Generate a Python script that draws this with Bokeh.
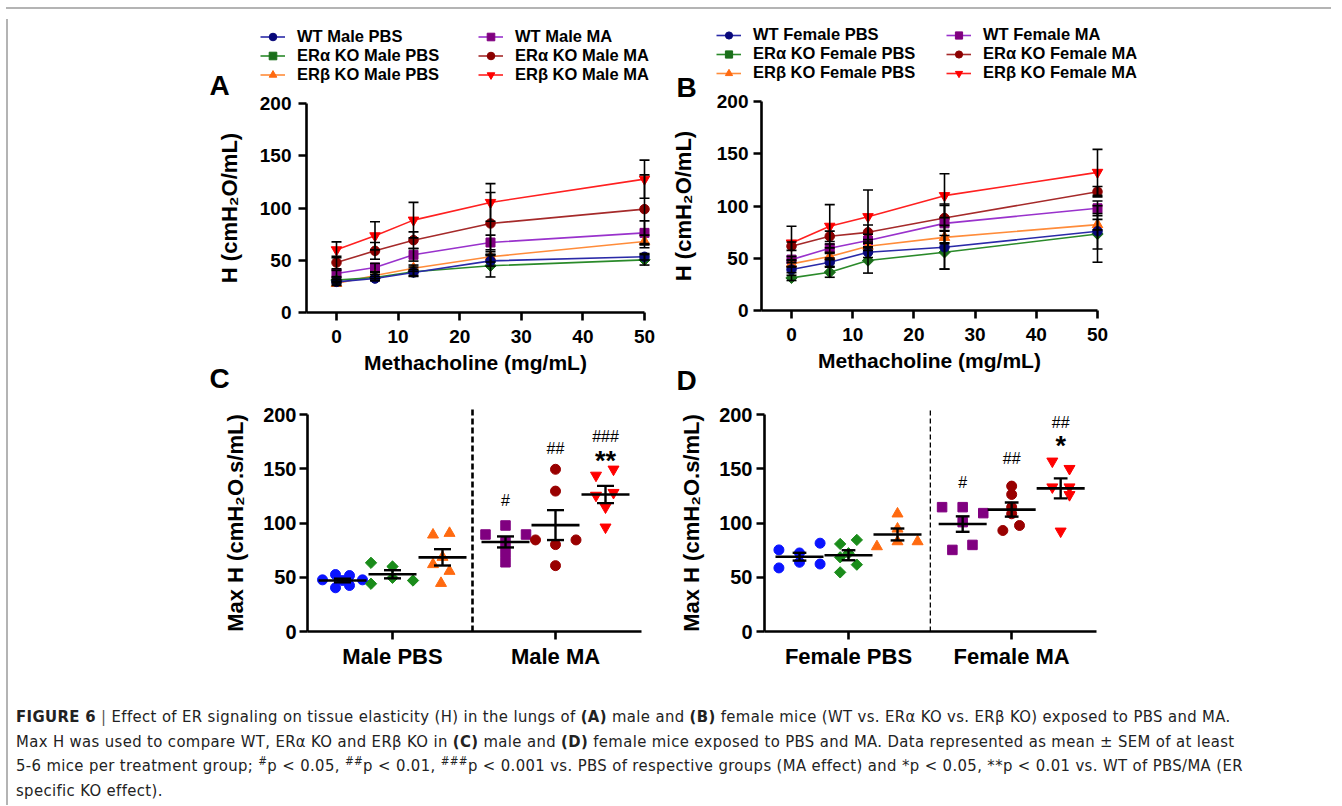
import math
from bokeh.plotting import figure
from bokeh.models import (ColumnDataSource, Whisker, TeeHead, Legend, LegendItem, Label,
                          Div, Spacer, FixedTicker)
from bokeh.layouts import row, column
from bokeh.embed import file_html
from bokeh.resources import INLINE
from bokeh.core.properties import value

FONT = "Liberation Sans"

# ---------------- data: panels A / B (mean and SEM per methacholine dose) ----------------
dose = [0, 6.25, 12.5, 25, 50]

male_labels = ["WT Male PBS", "ERα KO Male PBS", "ERβ KO Male PBS",
               "WT Male MA", "ERα KO Male MA", "ERβ KO Male MA"]
female_labels = ["WT Female PBS", "ERα KO Female PBS", "ERβ KO Female PBS",
                 "WT Female MA", "ERα KO Female MA", "ERβ KO Female MA"]

male_wt_pbs = [29.3, 32.5, 38.3, 49.4, 53.3]
male_era_pbs = [31.0, 33.5, 39.0, 44.7, 50.4]
male_erb_pbs = [27.8, 35.4, 42.4, 53.3, 68.0]
male_wt_ma = [37.3, 43.0, 55.2, 67.0, 76.2]
male_era_ma = [47.8, 59.0, 69.2, 85.2, 98.9]
male_erb_ma = [60.0, 73.4, 88.4, 105.3, 127.6]

male_wt_pbs_sem = [2, 2, 3, 5, 3]
male_era_pbs_sem = [2, 3, 4.5, 10.7, 5]
male_erb_pbs_sem = [2, 3, 3, 5, 6]
male_wt_ma_sem = [3, 4, 6, 7, 11.5]
male_era_ma_sem = [6, 8, 8, 29.6, 32.8]
male_erb_ma_sem = [7.6, 13.5, 17, 18, 18.2]

female_wt_pbs = [39.2, 46.2, 55.7, 60.5, 75.8]
female_era_pbs = [31.2, 36.6, 47.8, 55.7, 73.2]
female_erb_pbs = [44.6, 51.6, 61.5, 70.0, 82.2]
female_wt_ma = [48.7, 59.6, 66.9, 83.4, 97.8]
female_era_ma = [61.5, 71.0, 74.8, 88.5, 113.7]
female_erb_ma = [64.6, 80.6, 89.8, 109.9, 132.2]

female_wt_pbs_sem = [3, 4, 5, 21, 17]
female_era_pbs_sem = [2.5, 4.8, 12, 16, 27]
female_erb_pbs_sem = [3, 3, 4, 6, 5]
female_wt_ma_sem = [3, 4, 6, 18.5, 7]
female_era_ma_sem = [4, 5, 7, 12, 5]
female_erb_ma_sem = [16, 20.7, 25.5, 21, 22]

# ---------------- data: panels C / D (individual Max H values) ----------------
male_cats = ["Male PBS", "Male MA"]
female_cats = ["Female PBS", "Female MA"]

maxh_male_wt_pbs = [47.6, 52.5, 40.3, 51.6, 42.4, 47.6, 47.0]
maxh_male_era_pbs = [63.3, 44.0, 59.9, 49.5, 47.0]
maxh_male_erb_pbs = [89.1, 90.6, 61.8, 68.5, 55.6, 44.5]
maxh_male_wt_ma = [89.4, 97.7, 89.4, 82.3, 72.7, 63.8]
maxh_male_era_ma = [149.5, 129.4, 84.4, 84.4, 80.1, 60.7]
maxh_male_erb_ma = [143.9, 149.5, 125.4, 128.0, 114.6, 96.1]

maxh_female_wt_pbs = [75.2, 58.6, 72.4, 63.8, 81.4, 62.2]
maxh_female_era_pbs = [80.7, 84.4, 68.4, 72.1, 61.6, 54.5]
maxh_female_erb_pbs = [108.5, 78.3, 82.9, 94.6, 82.9]
maxh_female_wt_ma = [114.6, 114.6, 109.1, 100.8, 79.8, 75.2]
maxh_female_era_ma = [134.0, 126.3, 114.6, 108.5, 93.1, 97.7]
maxh_female_erb_ma = [156.9, 150.1, 133.1, 133.1, 126.0, 92.4]

male_sig_hash = ["", "", "", "#", "##", "###"]
male_sig_star = ["", "", "", "", "", "**"]
female_sig_hash = ["", "", "", "#", "##", "##"]
female_sig_star = ["", "", "", "", "", "*"]

# ---------------- layout / style constants ----------------
markers = ["circle", "square", "triangle", "square", "circle", "inverted_triangle"]
angles = [0, math.pi / 4, 0, 0, 0, 0]
msize_line = [9.5, 8, 10.5, 9, 9.5, 10.5]
msize_dot = [10, 8, 11, 9.5, 10, 11]
line_cols = ["#2a2aa8", "#2a8a2a", "#ff8c3a", "#9932cc", "#a52a2a", "#ff2020"]
mark_cols = ["#08087a", "#1a6e1a", "#ff6a10", "#800080", "#8b0000", "#ff0000"]
dot_cols = ["#0a14ff", "#1a8c1a", "#ff6a10", "#800080", "#990000", "#ff0000"]

# within-group horizontal scatter of points (Prism column-scatter layout)
off_male = [[-0.4, -0.14, -0.14, 0.14, 0.14, 0.4, 0.0],
            [-0.43, -0.43, 0.0, 0.0, 0.41],
            [-0.19, 0.14, -0.19, 0.0, 0.14, -0.03],
            [-0.4, 0.0, 0.41, 0.0, 0.0, 0.0],
            [0.0, 0.0, -0.4, 0.41, 0.0, 0.0],
            [-0.19, 0.16, -0.19, 0.16, 0.0, 0.0]]
off_female = [[-0.42, -0.42, 0.0, 0.0, 0.42, 0.42],
              [-0.17, 0.17, -0.17, 0.0, 0.17, -0.17],
              [0.0, -0.42, 0.41, 0.0, 0.0],
              [-0.42, 0.0, 0.42, 0.0, 0.2, -0.21],
              [0.0, 0.0, 0.0, 0.0, -0.18, 0.16],
              [-0.17, 0.18, -0.17, 0.18, 0.18, 0.0]]

# canvas geometry in page pixels: (left, top, width, height)
CAN_A = (14, 14, 654, 380)
CAN_B = (668, 14, 505, 380)
CAN_C = (14, 394, 654, 288)
CAN_D = (668, 394, 505, 288)


def mean(v):
    return sum(v) / len(v)


def sem(v):
    m = mean(v)
    return math.sqrt(sum((x - m) ** 2 for x in v) / (len(v) - 1)) / math.sqrt(len(v))


def ranges(can, x_at, x_px, ppx, y0_px, ppy):
    """data ranges so that the canvas (= frame) maps page pixels to data"""
    l, t, w, h = can
    xr = (x_at + (l - x_px) / ppx, x_at + (l + w - x_px) / ppx)
    yr = (-(t + h - y0_px) / ppy, (y0_px - t) / ppy)
    return xr, yr


def base_fig(can, xr, yr, yloc, xbounds):
    p = figure(width=can[2], height=can[3], x_range=xr, y_range=yr,
               output_backend="svg", toolbar_location=None,
               min_border=0, min_border_left=0, min_border_right=0,
               min_border_top=0, min_border_bottom=0)
    p.outline_line_color = None
    p.grid.visible = False
    p.background_fill_color = "white"
    p.border_fill_color = "white"
    p.xaxis.fixed_location = 0
    p.yaxis.fixed_location = yloc
    p.xaxis.bounds = xbounds
    p.yaxis.bounds = (0, 200)
    p.yaxis.ticker = FixedTicker(ticks=[0, 50, 100, 150, 200])
    for ax in (p.xaxis[0], p.yaxis[0]):
        ax.axis_line_width = 2.6
        ax.axis_line_color = "black"
        ax.major_tick_line_width = 2.6
        ax.major_tick_line_color = "black"
        ax.major_tick_out = 8
        ax.major_tick_in = 0
        ax.minor_tick_line_color = None
        ax.major_label_text_font = FONT
        ax.major_label_text_font_style = "bold"
        ax.major_label_text_color = "black"
        ax.axis_label_text_font = FONT
        ax.axis_label_text_font_style = "bold"
        ax.axis_label_text_color = "black"
    return p


def add_legend(p, items, vx, vy, gh):
    leg = Legend(items=items, location=(vx, vy), orientation="vertical",
                 glyph_width=25, glyph_height=gh, label_height=gh, spacing=0,
                 padding=0, margin=0, label_standoff=12,
                 border_line_color=None, background_fill_alpha=0,
                 label_text_font=FONT, label_text_font_style="bold",
                 label_text_font_size="16.5px", label_text_color="black")
    p.add_layout(leg)


def letter(p, x, y, t):
    p.add_layout(Label(x=x, y=y, text=t, text_font=FONT, text_font_style="bold",
                       text_font_size="28px", text_color="black",
                       text_baseline="alphabetic"))


def line_panel(series, sems, labels, can, x0_px, ppx, y0_px, yaxis_px, ytitle_standoff,
               ylabel_standoff, letters, leg1, leg2, gh):
    ppy = 1.045
    xr, yr = ranges(can, 0, x0_px, ppx, y0_px, ppy)
    yloc = (yaxis_px - x0_px) / ppx
    p = base_fig(can, xr, yr, yloc, (yloc, 50))
    p.xaxis.ticker = FixedTicker(ticks=[0, 10, 20, 30, 40, 50])
    p.xaxis.axis_label = "Methacholine (mg/mL)"
    p.yaxis.axis_label = "H (cmH₂O/mL)"
    p.xaxis.major_label_text_font_size = "19px"
    p.yaxis.major_label_text_font_size = "19px"
    p.xaxis.axis_label_text_font_size = "21px"
    p.yaxis.axis_label_text_font_size = "22px"
    p.xaxis.major_label_standoff = 9
    p.xaxis.axis_label_standoff = 5
    p.yaxis.major_label_standoff = ylabel_standoff
    p.yaxis.axis_label_standoff = ytitle_standoff

    rends = [None] * 6
    for i in reversed(range(6)):
        vals, errs = series[i], sems[i]
        src = ColumnDataSource(dict(x=dose, y=vals,
                                    upper=[v + e for v, e in zip(vals, errs)],
                                    lower=[v - e for v, e in zip(vals, errs)]))
        lr = p.line("x", "y", source=src, line_color=line_cols[i], line_width=1.6)
        sr = p.scatter("x", "y", source=src, marker=markers[i], size=msize_line[i],
                       angle=angles[i], fill_color=mark_cols[i], line_color=mark_cols[i])
        p.add_layout(Whisker(source=src, base="x", upper="upper", lower="lower",
                             line_color="black", line_width=1.6, level="annotation",
                             upper_head=TeeHead(size=10, line_color="black", line_width=1.6),
                             lower_head=TeeHead(size=10, line_color="black", line_width=1.6)))
        rends[i] = (lr, sr)
    items1 = [LegendItem(label=labels[i], renderers=list(rends[i])) for i in range(3)]
    items2 = [LegendItem(label=labels[i], renderers=list(rends[i])) for i in range(3, 6)]
    add_legend(p, items1, leg1[0], leg1[1], gh)
    add_legend(p, items2, leg2[0], leg2[1], gh)
    # panel letters (this panel's letter and the one of the panel below it)
    for t, (lx, ly) in letters:
        letter(p, (lx - x0_px) / ppx, (y0_px - ly) / ppy, t)
    return p


def dot_panel(groups, offsets, cats, pos, ticks, can, x1_px, ppx, yaxis_px, xend, sep_x,
              sig_hash, sig_star, mean_hw, cap_hw, sep_width, sep_dash, ylabel_standoff,
              ytitle_standoff, hash_y, star_y):
    ppy = 1.085
    y0_px = 631
    xr, yr = ranges(can, 1, x1_px, ppx, y0_px, ppy)
    yloc = 1 + (yaxis_px - x1_px) / ppx
    p = base_fig(can, xr, yr, yloc, (yloc, xend))
    p.xaxis.ticker = FixedTicker(ticks=ticks)
    p.xaxis.major_label_overrides = {t: c for t, c in zip(ticks, cats)}
    p.yaxis.axis_label = "Max H (cmH₂O.s/mL)"
    p.xaxis.major_label_text_font_size = "22px"
    p.yaxis.major_label_text_font_size = "20px"
    p.yaxis.axis_label_text_font_size = "22px"
    p.xaxis.major_label_standoff = 4
    p.yaxis.major_label_standoff = ylabel_standoff
    p.yaxis.axis_label_standoff = ytitle_standoff

    # dashed separator between PBS and MA
    p.segment(x0=[sep_x], y0=[0], x1=[sep_x], y1=[206], line_color="black",
              line_width=sep_width, line_dash=sep_dash)

    for i in range(6):
        vals = groups[i]
        xs = [pos[i] + o for o in offsets[i]]
        p.scatter(xs, vals, marker=markers[i], size=msize_dot[i], angle=angles[i],
                  fill_color=dot_cols[i], line_color=dot_cols[i])

    means = [mean(g) for g in groups]
    sems_ = [sem(g) for g in groups]
    st = ColumnDataSource(dict(
        x=pos, m=means,
        ml=[x - mean_hw for x in pos], mr=[x + mean_hw for x in pos],
        cl=[x - cap_hw for x in pos], cr=[x + cap_hw for x in pos],
        lo=[m - s for m, s in zip(means, sems_)], hi=[m + s for m, s in zip(means, sems_)]))
    p.segment("ml", "m", "mr", "m", source=st, line_color="black", line_width=2.6)
    p.segment("x", "lo", "x", "hi", source=st, line_color="black", line_width=2.4)
    p.segment("cl", "lo", "cr", "lo", source=st, line_color="black", line_width=2.4)
    p.segment("cl", "hi", "cr", "hi", source=st, line_color="black", line_width=2.4)

    p.text(x=pos, y=hash_y, text=sig_hash, text_font=value(FONT), text_font_size="16px",
           text_align="center", text_baseline="alphabetic", text_color="black")
    p.text(x=pos, y=star_y, text=sig_star, text_font=value(FONT), text_font_size="27px",
           text_font_style="bold", text_align="center", text_baseline="alphabetic",
           text_color="black")
    return p


male_series = [male_wt_pbs, male_era_pbs, male_erb_pbs, male_wt_ma, male_era_ma, male_erb_ma]
male_sems = [male_wt_pbs_sem, male_era_pbs_sem, male_erb_pbs_sem,
             male_wt_ma_sem, male_era_ma_sem, male_erb_ma_sem]
female_series = [female_wt_pbs, female_era_pbs, female_erb_pbs,
                 female_wt_ma, female_era_ma, female_erb_ma]
female_sems = [female_wt_pbs_sem, female_era_pbs_sem, female_erb_pbs_sem,
               female_wt_ma_sem, female_era_ma_sem, female_erb_ma_sem]

pA = line_panel(male_series, male_sems, male_labels, CAN_A, 337, 6.16, 312, 307, 15, 7,
                [("A", (210, 85)), ("C", (210, 378))], (247, 310), (465, 310), 19)
pB = line_panel(female_series, female_sems, female_labels, CAN_B, 792, 6.12, 310, 762, 18, 5,
                [("B", (677, 87)), ("D", (677, 379.5))], (49, 312), (279, 312), 18)

male_groups = [maxh_male_wt_pbs, maxh_male_era_pbs, maxh_male_erb_pbs,
               maxh_male_wt_ma, maxh_male_era_ma, maxh_male_erb_ma]
female_groups = [maxh_female_wt_pbs, maxh_female_era_pbs, maxh_female_erb_pbs,
                 maxh_female_wt_ma, maxh_female_era_ma, maxh_female_erb_ma]

pC = dot_panel(male_groups, off_male, male_cats, [1, 2, 3, 4.26, 5.26, 6.26], [2, 5.26],
               CAN_C, 343, 50, 308, 6.98, 3.6, male_sig_hash, male_sig_star,
               0.48, 0.17, 2.6, "6 3", 3, 12,
               [0, 0, 0, 121.0, 168.6, 179.5], [0, 0, 0, 0, 0, 157.0])
pD = dot_panel(female_groups, off_female, female_cats, [1, 2, 3, 4.33, 5.33, 6.33], [2, 5.33],
               CAN_D, 800, 49, 765, 7.06, 3.67, female_sig_hash, female_sig_star,
               0.49, 0.14, 1.3, "5 3", 4, 12,
               [0, 0, 0, 137.0, 159.5, 192.4], [0, 0, 0, 0, 0, 171.0])

caption_html = (
    '<div style="font-family:\'Liberation Sans Narrow\',\'Arial Narrow\',\'DejaVu Sans Condensed\',sans-serif;'
    'font-size:16.5px;letter-spacing:0.38px;line-height:24.5px;color:#222;white-space:nowrap;'
    'padding:18px 0 0 0;margin-left:-2px;">'
    '<b>FIGURE 6</b> <span style="color:#555">|</span> Effect of ER signaling on tissue elasticity (H) in the lungs of '
    '<b>(A)</b> male and <b>(B)</b> female mice (WT vs. ERα KO vs. ERβ KO) exposed to PBS and MA.<br>'
    'Max H was used to compare WT, ERα KO and ERβ KO in <b>(C)</b> male and <b>(D)</b> female mice '
    'exposed to PBS and MA. Data represented as mean ± SEM of at least<br>'
    '5-6 mice per treatment group; <sup style="line-height:0;font-size:70%">#</sup>p &lt; 0.05, '
    '<sup style="line-height:0;font-size:70%">##</sup>p &lt; 0.01, '
    '<sup style="line-height:0;font-size:70%">###</sup>p &lt; 0.001 vs. PBS of respective groups '
    '(MA effect) and *p &lt; 0.05, **p &lt; 0.01 vs. WT of PBS/MA (ER<br>'
    'specific KO effect).'
    '</div>'
)
caption = Div(text=caption_html, width=1320, height=118)

hline = Div(text="", width=1325, height=2, styles={"background-color": "#b4b4b4", "overflow": "hidden"})
vline = Div(text="", width=2, height=786, styles={"background-color": "#b4b4b4", "overflow": "hidden"})

content = column(row(pA, pB), row(pC, pD), caption)
page = column(Spacer(height=2), hline, row(vline, content))
root = row(Spacer(width=1), page)

open("out.html", "w").write(file_html(root, INLINE))
